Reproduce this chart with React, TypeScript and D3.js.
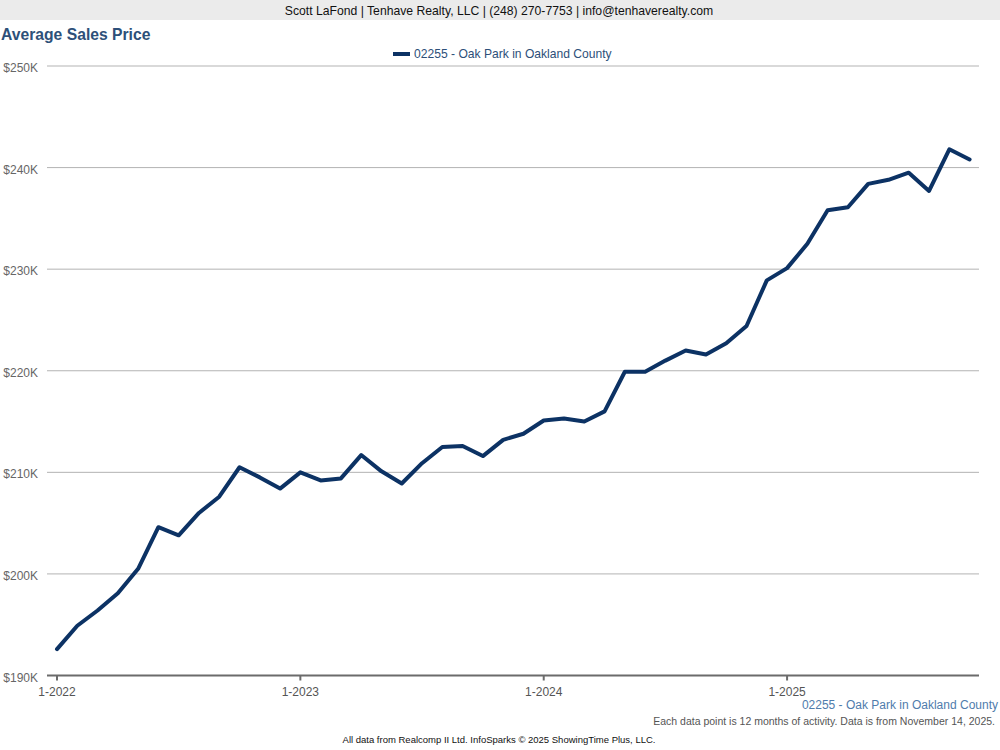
import React, { useRef, useEffect } from 'react';
import * as d3 from 'd3';

// monthly points, 1-2022 through 10-2025 (rolling 12 months)
const months = [
  '1-2022', '2-2022', '3-2022', '4-2022', '5-2022', '6-2022', '7-2022', '8-2022', '9-2022', '10-2022', '11-2022', '12-2022',
  '1-2023', '2-2023', '3-2023', '4-2023', '5-2023', '6-2023', '7-2023', '8-2023', '9-2023', '10-2023', '11-2023', '12-2023',
  '1-2024', '2-2024', '3-2024', '4-2024', '5-2024', '6-2024', '7-2024', '8-2024', '9-2024', '10-2024', '11-2024', '12-2024',
  '1-2025', '2-2025', '3-2025', '4-2025', '5-2025', '6-2025', '7-2025', '8-2025', '9-2025', '10-2025'
];

const avgPrice = [
  192.6, 194.9, 196.4, 198.1, 200.5, 204.6, 203.8, 206.0, 207.6, 210.5, 209.5, 208.4,
  210.0, 209.2, 209.4, 211.7, 210.1, 208.9, 210.9, 212.5, 212.6, 211.6, 213.2, 213.8,
  215.1, 215.3, 215.0, 216.0, 219.9, 219.9, 221.0, 222.0, 221.6, 222.7, 224.4, 228.9,
  230.1, 232.5, 235.8, 236.1, 238.4, 238.8, 239.5, 237.7, 241.8, 240.8
];

const yTicks = [190, 200, 210, 220, 230, 240, 250];
const xTickLabels = ['1-2022', '1-2023', '1-2024', '1-2025'];

const seriesName = '02255 - Oak Park in Oakland County';
const lineColor = '#0c3264';
const font = 'Arial, "Liberation Sans", sans-serif';

const App: React.FC = () => {
  const ref = useRef<SVGSVGElement>(null);

  useEffect(() => {
    const svg = d3.select(ref.current);
    svg.selectAll('*').remove();

    const W = 1000;
    const left = 47, right = 979;

    const x = d3.scaleLinear().domain([0, months.length - 1]).range([57, 969.6]);
    const y = d3.scaleLinear().domain([190, 250]).range([675.5, 66]);

    // header band
    svg.append('rect').attr('x', 0).attr('y', 0).attr('width', W).attr('height', 20).attr('fill', '#ebebeb');
    svg.append('text')
      .attr('x', 499).attr('y', 15)
      .attr('text-anchor', 'middle')
      .attr('font-size', 12.2).attr('fill', '#111')
      .text('Scott LaFond | Tenhave Realty, LLC | (248) 270-7753 | info@tenhaverealty.com');

    svg.append('text')
      .attr('x', 1).attr('y', 40)
      .attr('font-size', 15.7).attr('font-weight', 'bold').attr('fill', '#2d5079')
      .text('Average Sales Price');

    // legend
    svg.append('line')
      .attr('x1', 393).attr('x2', 410).attr('y1', 54).attr('y2', 54)
      .attr('stroke', lineColor).attr('stroke-width', 4);
    svg.append('text')
      .attr('x', 414).attr('y', 58)
      .attr('font-size', 12.1).attr('fill', '#2d4f79')
      .text(seriesName);

    // grid + y labels
    const grid = svg.append('g');
    yTicks.forEach(t => {
      if (t !== 190) {
        grid.append('line')
          .attr('x1', left).attr('x2', right)
          .attr('y1', y(t)).attr('y2', y(t))
          .attr('stroke', '#b3b3b3').attr('stroke-width', 1);
      }
      grid.append('text')
        .attr('x', 38).attr('y', y(t) + 6)
        .attr('text-anchor', 'end')
        .attr('font-size', 12).attr('fill', '#666')
        .text(`$${t}K`);
    });

    // x axis
    svg.append('line')
      .attr('x1', left).attr('x2', right)
      .attr('y1', y(190)).attr('y2', y(190))
      .attr('stroke', '#6b6b6b').attr('stroke-width', 2);
    xTickLabels.forEach(lbl => {
      const i = months.indexOf(lbl);
      svg.append('line')
        .attr('x1', x(i)).attr('x2', x(i))
        .attr('y1', y(190)).attr('y2', y(190) + 5)
        .attr('stroke', '#6b6b6b').attr('stroke-width', 2);
      svg.append('text')
        .attr('x', x(i)).attr('y', 696)
        .attr('text-anchor', 'middle')
        .attr('font-size', 12).attr('fill', '#555')
        .text(lbl);
    });

    const line = d3.line<number>()
      .x((_, i) => x(i))
      .y(d => y(d));

    svg.append('path')
      .datum(avgPrice)
      .attr('fill', 'none')
      .attr('stroke', lineColor)
      .attr('stroke-width', 4)
      .attr('stroke-linejoin', 'round')
      .attr('stroke-linecap', 'round')
      .attr('d', line);

    // footer
    svg.append('text')
      .attr('x', 998).attr('y', 709)
      .attr('text-anchor', 'end')
      .attr('font-size', 12).attr('fill', '#4f7cac')
      .text(seriesName);
    svg.append('text')
      .attr('x', 995).attr('y', 725)
      .attr('text-anchor', 'end')
      .attr('font-size', 10.5).attr('fill', '#555')
      .text('Each data point is 12 months of activity. Data is from November 14, 2025.');
    svg.append('text')
      .attr('x', 499).attr('y', 743)
      .attr('text-anchor', 'middle')
      .attr('font-size', 9.5).attr('fill', '#111')
      .text('All data from Realcomp II Ltd. InfoSparks © 2025 ShowingTime Plus, LLC.');
  }, []);

  return (
    <svg
      ref={ref}
      width={1000}
      height={750}
      style={{ position: 'absolute', left: 0, top: 0, background: '#fff', fontFamily: font }}
    />
  );
};

export default App;
